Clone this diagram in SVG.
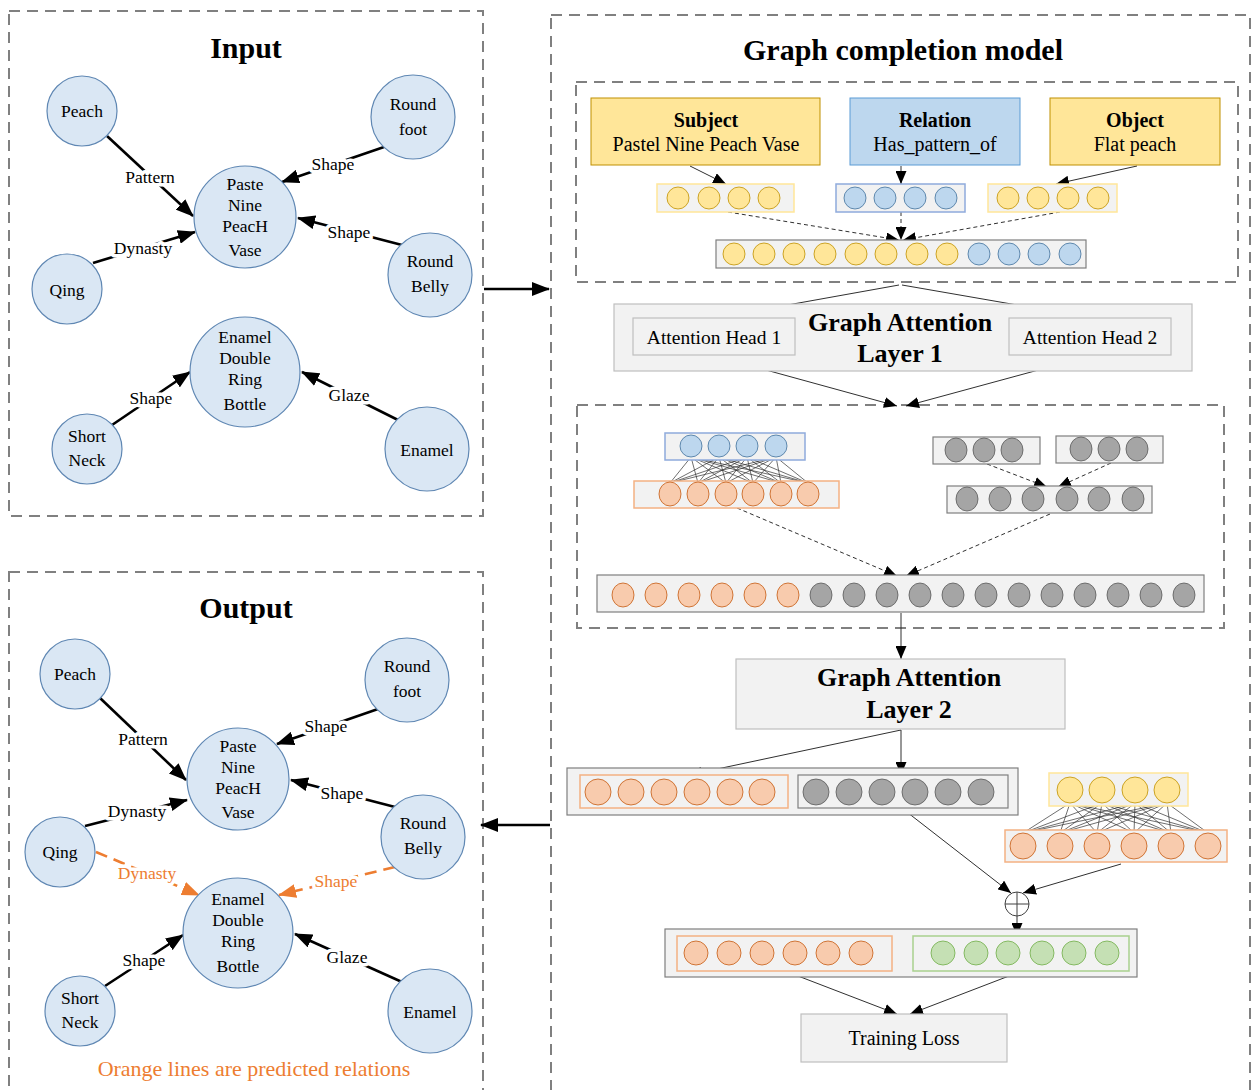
<svg xmlns="http://www.w3.org/2000/svg" width="1255" height="1090" viewBox="0 0 1255 1090">
  <defs>
    <style>
      text { font-family: "Liberation Serif", "Times New Roman", serif; fill: #000; text-anchor: middle; dominant-baseline: central; }
      .title { font-size: 30px; font-weight: bold; }
      .ltitle { font-size: 26px; font-weight: bold; }
      .nl { font-size: 17.5px; }
      .el { font-size: 17.5px; paint-order: stroke; stroke: #fff; stroke-width: 7px; stroke-linejoin: round; }
      .elo { font-size: 17.5px; fill: #ED7D31; paint-order: stroke; stroke: #fff; stroke-width: 7px; stroke-linejoin: round; }
      .bt { font-size: 20px; }
      .ht { font-size: 19.5px; }
      .bb { font-size: 20px; font-weight: bold; }
      .panel { fill: none; stroke: #808080; stroke-width: 2; stroke-dasharray: 11 7; }
      .node { fill: #DAE7F4; stroke: #5F87B3; stroke-width: 1.2; }
      .edge { stroke: #000; stroke-width: 2.6; fill: none; marker-end: url(#ah); }
      .pred { stroke: #ED7D31; stroke-width: 2.6; fill: none; stroke-dasharray: 12 7; marker-end: url(#aho); }
      .thin { stroke: #303030; stroke-width: 1; fill: none; marker-end: url(#as); }
      .dash { stroke: #303030; stroke-width: 1; fill: none; stroke-dasharray: 4 3; marker-end: url(#as); }
      .mesh { stroke: #303030; stroke-width: 0.7; }
      .vec { fill: #F2F2F2; stroke: #7F7F7F; stroke-width: 1.2; }
      .vy { fill: #F2F2F2; stroke: #FFE699; stroke-width: 1.5; }
      .vb { fill: #F2F2F2; stroke: #8FAADC; stroke-width: 1.5; }
      .vo { fill: #F2F2F2; stroke: #F4B183; stroke-width: 1.5; }
      .vg { fill: #F2F2F2; stroke: #A9D18E; stroke-width: 1.5; }
      .box { fill: #F2F2F2; stroke: #BFBFBF; stroke-width: 1.2; }
      .cy { fill: #FFE699; stroke: #BF9000; stroke-width: 0.8; }
      .cb { fill: #BDD7EE; stroke: #41719C; stroke-width: 0.8; }
      .co { fill: #F8CBAD; stroke: #C55A11; stroke-width: 0.8; }
      .cg { fill: #A5A5A5; stroke: #595959; stroke-width: 0.8; }
      .cn { fill: #C5E0B4; stroke: #70AD47; stroke-width: 0.8; }
    </style>
    <marker id="ah" markerUnits="userSpaceOnUse" markerWidth="18" markerHeight="14" refX="17" refY="7" orient="auto">
      <path d="M0,0 L18,7 L0,14 z" fill="#000"/>
    </marker>
    <marker id="aho" markerUnits="userSpaceOnUse" markerWidth="18" markerHeight="14" refX="17" refY="7" orient="auto">
      <path d="M0,0 L18,7 L0,14 z" fill="#ED7D31"/>
    </marker>
    <marker id="as" markerUnits="userSpaceOnUse" markerWidth="13" markerHeight="11" refX="13" refY="5.5" orient="auto">
      <path d="M0,0 L13,5.5 L0,11 z" fill="#000"/>
    </marker>
  </defs>

  <rect width="1255" height="1090" fill="#fff"/>

  <!-- panels -->
  <rect class="panel" x="9" y="11" width="474" height="505"/>
  <rect class="panel" x="9" y="572" width="474" height="530"/>
  <rect class="panel" x="551" y="15" width="699" height="1090"/>
  <rect class="panel" x="576" y="82" width="662" height="200"/>
  <rect class="panel" x="577" y="405" width="647" height="223"/>

  <text class="title" x="246" y="47">Input</text>
  <text class="title" x="246" y="607">Output</text>
  <text class="title" x="903" y="49">Graph completion model</text>

  <!-- connectors -->
  <g id="connectors">
    <!-- input graph -->
    <line class="edge" x1="107" y1="136" x2="193" y2="216"/>
    <line class="edge" x1="93" y1="263" x2="195" y2="232"/>
    <line class="edge" x1="384" y1="147" x2="282" y2="182"/>
    <line class="edge" x1="402" y1="245" x2="298" y2="218"/>
    <line class="edge" x1="112" y1="425" x2="190" y2="372"/>
    <line class="edge" x1="398" y1="420" x2="302" y2="372"/>
    <!-- output graph -->
    <line class="edge" x1="100" y1="698" x2="186" y2="780"/>
    <line class="edge" x1="85" y1="826" x2="187" y2="800"/>
    <line class="edge" x1="378" y1="709" x2="277" y2="744"/>
    <line class="edge" x1="395" y1="807" x2="291" y2="780"/>
    <line class="pred" x1="96" y1="852" x2="199" y2="895"/>
    <line class="pred" x1="395" y1="867" x2="279" y2="895"/>
    <line class="edge" x1="105" y1="986" x2="183" y2="935"/>
    <line class="edge" x1="402" y1="982" x2="295" y2="934"/>
    <!-- panel links -->
    <line class="edge" x1="484" y1="289" x2="549" y2="289"/>
    <line class="edge" x1="550" y1="825" x2="481" y2="825"/>
    <!-- embedding lookup -->
    <line class="thin" x1="690" y1="166" x2="726" y2="184"/>
    <line class="thin" x1="901" y1="166" x2="901" y2="184"/>
    <line class="thin" x1="1137" y1="166" x2="1056" y2="184"/>
    <line class="dash" x1="728" y1="212" x2="899" y2="240"/>
    <line class="dash" x1="901" y1="212" x2="901" y2="240"/>
    <line class="dash" x1="1060" y1="212" x2="903" y2="240"/>
    <!-- attention layer 1 -->
    <line class="thin" x1="899" y1="285" x2="715" y2="318"/>
    <line class="thin" x1="902" y1="285" x2="1092" y2="318"/>
    <line class="thin" x1="715" y1="356" x2="897" y2="406"/>
    <line class="thin" x1="1090" y1="356" x2="906" y2="406"/>
    <!-- concatenation block -->
    <line class="dash" x1="987" y1="464" x2="1047" y2="487"/>
    <line class="dash" x1="1111" y1="463" x2="1058" y2="487"/>
    <line class="dash" x1="737" y1="508" x2="897" y2="576"/>
    <line class="dash" x1="1050" y1="514" x2="906" y2="576"/>
    <line class="thin" x1="901" y1="613" x2="901" y2="659"/>
    <!-- attention layer 2 -->
    <line class="thin" x1="901" y1="730" x2="901" y2="775"/>
    <line class="thin" x1="901" y1="730" x2="689" y2="775"/>
    <line class="thin" x1="903" y1="809" x2="1011" y2="893"/>
    <line class="thin" x1="1121" y1="864" x2="1023" y2="893"/>
    <line class="thin" x1="1017" y1="916" x2="1017" y2="936"/>
    <line class="thin" x1="785" y1="971" x2="897" y2="1014"/>
    <line class="thin" x1="1022" y1="971" x2="910" y2="1014"/>
  </g>

  <!-- relation labels -->
  <g id="edge-labels">
    <text class="el" x="150" y="177">Pattern</text>
    <text class="el" x="143" y="248">Dynasty</text>
    <text class="el" x="333" y="164">Shape</text>
    <text class="el" x="349" y="232">Shape</text>
    <text class="el" x="151" y="398">Shape</text>
    <text class="el" x="349" y="395">Glaze</text>
    <text class="el" x="143" y="739">Pattern</text>
    <text class="el" x="137" y="811">Dynasty</text>
    <text class="el" x="326" y="726">Shape</text>
    <text class="el" x="342" y="793">Shape</text>
    <text class="elo" x="147" y="873">Dynasty</text>
    <text class="elo" x="336" y="881">Shape</text>
    <text class="el" x="144" y="960">Shape</text>
    <text class="el" x="347" y="957">Glaze</text>
  </g>

  <!-- input graph nodes -->
  <g id="in-peach"><circle class="node" cx="82" cy="111" r="35"/><text class="nl" x="82" y="111">Peach</text></g>
  <g id="in-roundfoot"><circle class="node" cx="413" cy="117" r="42"/><text class="nl" x="413" y="104">Round</text><text class="nl" x="413" y="129">foot</text></g>
  <g id="in-vase"><circle class="node" cx="245" cy="217" r="51"/><text class="nl" x="245" y="184">Paste</text><text class="nl" x="245" y="205">Nine</text><text class="nl" x="245" y="226">PeacH</text><text class="nl" x="245" y="250">Vase</text></g>
  <g id="in-qing"><circle class="node" cx="67" cy="289" r="35"/><text class="nl" x="67" y="290">Qing</text></g>
  <g id="in-roundbelly"><circle class="node" cx="430" cy="275" r="42"/><text class="nl" x="430" y="261">Round</text><text class="nl" x="430" y="286">Belly</text></g>
  <g id="in-bottle"><circle class="node" cx="245" cy="372" r="55"/><text class="nl" x="245" y="337">Enamel</text><text class="nl" x="245" y="358">Double</text><text class="nl" x="245" y="379">Ring</text><text class="nl" x="245" y="404">Bottle</text></g>
  <g id="in-shortneck"><circle class="node" cx="87" cy="449" r="35"/><text class="nl" x="87" y="436">Short</text><text class="nl" x="87" y="460">Neck</text></g>
  <g id="in-enamel"><circle class="node" cx="427" cy="449" r="42"/><text class="nl" x="427" y="450">Enamel</text></g>

  <!-- output graph nodes -->
  <g id="out-peach"><circle class="node" cx="75" cy="674" r="35"/><text class="nl" x="75" y="674">Peach</text></g>
  <g id="out-roundfoot"><circle class="node" cx="407" cy="680" r="42"/><text class="nl" x="407" y="666">Round</text><text class="nl" x="407" y="691">foot</text></g>
  <g id="out-vase"><circle class="node" cx="238" cy="779" r="51"/><text class="nl" x="238" y="746">Paste</text><text class="nl" x="238" y="767">Nine</text><text class="nl" x="238" y="788">PeacH</text><text class="nl" x="238" y="812">Vase</text></g>
  <g id="out-qing"><circle class="node" cx="60" cy="852" r="35"/><text class="nl" x="60" y="852">Qing</text></g>
  <g id="out-roundbelly"><circle class="node" cx="423" cy="837" r="42"/><text class="nl" x="423" y="823">Round</text><text class="nl" x="423" y="848">Belly</text></g>
  <g id="out-bottle"><circle class="node" cx="238" cy="933" r="55"/><text class="nl" x="238" y="899">Enamel</text><text class="nl" x="238" y="920">Double</text><text class="nl" x="238" y="941">Ring</text><text class="nl" x="238" y="966">Bottle</text></g>
  <g id="out-shortneck"><circle class="node" cx="80" cy="1011" r="35"/><text class="nl" x="80" y="998">Short</text><text class="nl" x="80" y="1022">Neck</text></g>
  <g id="out-enamel"><circle class="node" cx="430" cy="1011" r="42"/><text class="nl" x="430" y="1012">Enamel</text></g>
  <text x="254" y="1068" style="font-size:22px;fill:#ED7D31">Orange lines are predicted relations</text>

  <!-- triple boxes -->
  <g id="subject"><rect x="591" y="98" width="229" height="67" fill="#FFE699" stroke="#BF9000" stroke-width="1"/><text class="bb" x="706" y="120">Subject</text><text class="bt" x="706" y="144">Pastel Nine Peach Vase</text></g>
  <g id="relation"><rect x="850" y="98" width="170" height="67" fill="#BDD7EE" stroke="#5B9BD5" stroke-width="1"/><text class="bb" x="935" y="120">Relation</text><text class="bt" x="935" y="144">Has_pattern_of</text></g>
  <g id="object"><rect x="1050" y="98" width="170" height="67" fill="#FFE699" stroke="#BF9000" stroke-width="1"/><text class="bb" x="1135" y="120">Object</text><text class="bt" x="1135" y="144">Flat peach</text></g>

  <!-- triple embeddings -->
  <g id="emb-subject"><rect class="vy" x="657" y="184" width="137" height="28"/>
    <circle class="cy" cx="678" cy="198" r="11"/><circle class="cy" cx="709" cy="198" r="11"/><circle class="cy" cx="739" cy="198" r="11"/><circle class="cy" cx="769" cy="198" r="11"/></g>
  <g id="emb-relation"><rect class="vb" x="836" y="184" width="129" height="28"/>
    <circle class="cb" cx="855" cy="198" r="11"/><circle class="cb" cx="885" cy="198" r="11"/><circle class="cb" cx="915" cy="198" r="11"/><circle class="cb" cx="946" cy="198" r="11"/></g>
  <g id="emb-object"><rect class="vy" x="988" y="184" width="129" height="28"/>
    <circle class="cy" cx="1008" cy="198" r="11"/><circle class="cy" cx="1038" cy="198" r="11"/><circle class="cy" cx="1068" cy="198" r="11"/><circle class="cy" cx="1098" cy="198" r="11"/></g>
  <g id="emb-concat"><rect class="vec" x="716" y="240" width="370" height="28"/>
    <circle class="cy" cx="734" cy="254" r="11"/><circle class="cy" cx="764" cy="254" r="11"/><circle class="cy" cx="794" cy="254" r="11"/><circle class="cy" cx="825" cy="254" r="11"/>
    <circle class="cy" cx="856" cy="254" r="11"/><circle class="cy" cx="886" cy="254" r="11"/><circle class="cy" cx="917" cy="254" r="11"/><circle class="cy" cx="947" cy="254" r="11"/>
    <circle class="cb" cx="979" cy="254" r="11"/><circle class="cb" cx="1009" cy="254" r="11"/><circle class="cb" cx="1039" cy="254" r="11"/><circle class="cb" cx="1070" cy="254" r="11"/></g>

  <!-- graph attention layer 1 -->
  <g id="gat1"><rect class="box" x="614" y="304" width="578" height="67"/>
    <text class="ltitle" x="900" y="322">Graph Attention</text><text class="ltitle" x="900" y="353">Layer 1</text></g>
  <g id="head1"><rect class="box" x="633" y="318" width="162" height="37"/><text class="ht" x="714" y="337">Attention Head 1</text></g>
  <g id="head2"><rect class="box" x="1009" y="318" width="162" height="37"/><text class="ht" x="1090" y="337">Attention Head 2</text></g>

  <!-- head outputs -->
  <g id="mesh-1">
    <line class="mesh" x1="691" y1="457" x2="670" y2="483"/><line class="mesh" x1="691" y1="457" x2="698" y2="483"/><line class="mesh" x1="691" y1="457" x2="726" y2="483"/><line class="mesh" x1="691" y1="457" x2="753" y2="483"/><line class="mesh" x1="691" y1="457" x2="781" y2="483"/><line class="mesh" x1="691" y1="457" x2="808" y2="483"/>
    <line class="mesh" x1="719" y1="457" x2="670" y2="483"/><line class="mesh" x1="719" y1="457" x2="698" y2="483"/><line class="mesh" x1="719" y1="457" x2="726" y2="483"/><line class="mesh" x1="719" y1="457" x2="753" y2="483"/><line class="mesh" x1="719" y1="457" x2="781" y2="483"/><line class="mesh" x1="719" y1="457" x2="808" y2="483"/>
    <line class="mesh" x1="747" y1="457" x2="670" y2="483"/><line class="mesh" x1="747" y1="457" x2="698" y2="483"/><line class="mesh" x1="747" y1="457" x2="726" y2="483"/><line class="mesh" x1="747" y1="457" x2="753" y2="483"/><line class="mesh" x1="747" y1="457" x2="781" y2="483"/><line class="mesh" x1="747" y1="457" x2="808" y2="483"/>
    <line class="mesh" x1="776" y1="457" x2="670" y2="483"/><line class="mesh" x1="776" y1="457" x2="698" y2="483"/><line class="mesh" x1="776" y1="457" x2="726" y2="483"/><line class="mesh" x1="776" y1="457" x2="753" y2="483"/><line class="mesh" x1="776" y1="457" x2="781" y2="483"/><line class="mesh" x1="776" y1="457" x2="808" y2="483"/>
  </g>
  <g id="vec-blue"><rect class="vb" x="665" y="433" width="140" height="27"/>
    <circle class="cb" cx="691" cy="446" r="11"/><circle class="cb" cx="719" cy="446" r="11"/><circle class="cb" cx="747" cy="446" r="11"/><circle class="cb" cx="776" cy="446" r="11"/></g>
  <g id="vec-orange"><rect class="vo" x="634" y="481" width="205" height="27"/>
    <ellipse class="co" cx="670" cy="494" rx="11" ry="12"/><ellipse class="co" cx="698" cy="494" rx="11" ry="12"/><ellipse class="co" cx="726" cy="494" rx="11" ry="12"/><ellipse class="co" cx="753" cy="494" rx="11" ry="12"/><ellipse class="co" cx="781" cy="494" rx="11" ry="12"/><ellipse class="co" cx="808" cy="494" rx="11" ry="12"/></g>
  <g id="vec-gray-a"><rect class="vec" x="933" y="437" width="107" height="27"/>
    <ellipse class="cg" cx="956" cy="450" rx="11" ry="12"/><ellipse class="cg" cx="984" cy="450" rx="11" ry="12"/><ellipse class="cg" cx="1012" cy="450" rx="11" ry="12"/></g>
  <g id="vec-gray-b"><rect class="vec" x="1056" y="436" width="107" height="27"/>
    <ellipse class="cg" cx="1081" cy="449" rx="11" ry="12"/><ellipse class="cg" cx="1109" cy="449" rx="11" ry="12"/><ellipse class="cg" cx="1137" cy="449" rx="11" ry="12"/></g>
  <g id="vec-gray-c"><rect class="vec" x="947" y="486" width="205" height="27"/>
    <ellipse class="cg" cx="967" cy="499" rx="11" ry="12"/><ellipse class="cg" cx="1000" cy="499" rx="11" ry="12"/><ellipse class="cg" cx="1033" cy="499" rx="11" ry="12"/><ellipse class="cg" cx="1067" cy="499" rx="11" ry="12"/><ellipse class="cg" cx="1099" cy="499" rx="11" ry="12"/><ellipse class="cg" cx="1133" cy="499" rx="11" ry="12"/></g>
  <g id="vec-concat2"><rect class="vec" x="597" y="575" width="607" height="37"/>
    <ellipse class="co" cx="623" cy="595" rx="11" ry="12"/><ellipse class="co" cx="656" cy="595" rx="11" ry="12"/><ellipse class="co" cx="689" cy="595" rx="11" ry="12"/><ellipse class="co" cx="722" cy="595" rx="11" ry="12"/><ellipse class="co" cx="755" cy="595" rx="11" ry="12"/><ellipse class="co" cx="788" cy="595" rx="11" ry="12"/>
    <ellipse class="cg" cx="821" cy="595" rx="11" ry="12"/><ellipse class="cg" cx="854" cy="595" rx="11" ry="12"/><ellipse class="cg" cx="887" cy="595" rx="11" ry="12"/><ellipse class="cg" cx="920" cy="595" rx="11" ry="12"/><ellipse class="cg" cx="953" cy="595" rx="11" ry="12"/><ellipse class="cg" cx="986" cy="595" rx="11" ry="12"/>
    <ellipse class="cg" cx="1019" cy="595" rx="11" ry="12"/><ellipse class="cg" cx="1052" cy="595" rx="11" ry="12"/><ellipse class="cg" cx="1085" cy="595" rx="11" ry="12"/><ellipse class="cg" cx="1118" cy="595" rx="11" ry="12"/><ellipse class="cg" cx="1151" cy="595" rx="11" ry="12"/><ellipse class="cg" cx="1184" cy="595" rx="11" ry="12"/></g>

  <!-- graph attention layer 2 -->
  <g id="gat2"><rect class="box" x="736" y="659" width="329" height="70"/>
    <text class="ltitle" x="909" y="677">Graph Attention</text><text class="ltitle" x="909" y="709">Layer 2</text></g>

  <g id="vec-layer2"><rect class="vec" x="567" y="768" width="451" height="47"/>
    <rect class="vo" x="580" y="775" width="208" height="33"/>
    <rect class="vec" x="798" y="775" width="210" height="33"/>
    <circle class="co" cx="598" cy="792" r="13"/><circle class="co" cx="631" cy="792" r="13"/><circle class="co" cx="664" cy="792" r="13"/><circle class="co" cx="697" cy="792" r="13"/><circle class="co" cx="730" cy="792" r="13"/><circle class="co" cx="762" cy="792" r="13"/>
    <circle class="cg" cx="816" cy="792" r="13"/><circle class="cg" cx="849" cy="792" r="13"/><circle class="cg" cx="882" cy="792" r="13"/><circle class="cg" cx="915" cy="792" r="13"/><circle class="cg" cx="948" cy="792" r="13"/><circle class="cg" cx="981" cy="792" r="13"/></g>

  <g id="mesh-2">
    <line class="mesh" x1="1070" y1="803" x2="1023" y2="833"/><line class="mesh" x1="1070" y1="803" x2="1060" y2="833"/><line class="mesh" x1="1070" y1="803" x2="1097" y2="833"/><line class="mesh" x1="1070" y1="803" x2="1134" y2="833"/><line class="mesh" x1="1070" y1="803" x2="1171" y2="833"/><line class="mesh" x1="1070" y1="803" x2="1208" y2="833"/>
    <line class="mesh" x1="1102" y1="803" x2="1023" y2="833"/><line class="mesh" x1="1102" y1="803" x2="1060" y2="833"/><line class="mesh" x1="1102" y1="803" x2="1097" y2="833"/><line class="mesh" x1="1102" y1="803" x2="1134" y2="833"/><line class="mesh" x1="1102" y1="803" x2="1171" y2="833"/><line class="mesh" x1="1102" y1="803" x2="1208" y2="833"/>
    <line class="mesh" x1="1135" y1="803" x2="1023" y2="833"/><line class="mesh" x1="1135" y1="803" x2="1060" y2="833"/><line class="mesh" x1="1135" y1="803" x2="1097" y2="833"/><line class="mesh" x1="1135" y1="803" x2="1134" y2="833"/><line class="mesh" x1="1135" y1="803" x2="1171" y2="833"/><line class="mesh" x1="1135" y1="803" x2="1208" y2="833"/>
    <line class="mesh" x1="1167" y1="803" x2="1023" y2="833"/><line class="mesh" x1="1167" y1="803" x2="1060" y2="833"/><line class="mesh" x1="1167" y1="803" x2="1097" y2="833"/><line class="mesh" x1="1167" y1="803" x2="1134" y2="833"/><line class="mesh" x1="1167" y1="803" x2="1171" y2="833"/><line class="mesh" x1="1167" y1="803" x2="1208" y2="833"/>
  </g>
  <g id="vec-yellow"><rect class="vy" x="1049" y="773" width="139" height="33"/>
    <circle class="cy" cx="1070" cy="790" r="13"/><circle class="cy" cx="1102" cy="790" r="13"/><circle class="cy" cx="1135" cy="790" r="13"/><circle class="cy" cx="1167" cy="790" r="13"/></g>
  <g id="vec-orange2"><rect class="vo" x="1005" y="830" width="222" height="32"/>
    <circle class="co" cx="1023" cy="846" r="13"/><circle class="co" cx="1060" cy="846" r="13"/><circle class="co" cx="1097" cy="846" r="13"/><circle class="co" cx="1134" cy="846" r="13"/><circle class="co" cx="1171" cy="846" r="13"/><circle class="co" cx="1208" cy="846" r="13"/></g>

  <!-- residual sum -->
  <g id="sum"><circle cx="1017" cy="904" r="12" fill="#fff" stroke="#404040" stroke-width="1"/>
    <line x1="1005" y1="904" x2="1029" y2="904" stroke="#404040" stroke-width="1"/><line x1="1017" y1="892" x2="1017" y2="916" stroke="#404040" stroke-width="1"/></g>

  <g id="vec-final"><rect class="vec" x="665" y="929" width="472" height="48"/>
    <rect class="vo" x="677" y="936" width="215" height="35"/>
    <rect class="vg" x="913" y="936" width="216" height="35"/>
    <circle class="co" cx="696" cy="953" r="12"/><circle class="co" cx="729" cy="953" r="12"/><circle class="co" cx="762" cy="953" r="12"/><circle class="co" cx="795" cy="953" r="12"/><circle class="co" cx="828" cy="953" r="12"/><circle class="co" cx="861" cy="953" r="12"/>
    <circle class="cn" cx="943" cy="953" r="12"/><circle class="cn" cx="976" cy="953" r="12"/><circle class="cn" cx="1008" cy="953" r="12"/><circle class="cn" cx="1042" cy="953" r="12"/><circle class="cn" cx="1074" cy="953" r="12"/><circle class="cn" cx="1107" cy="953" r="12"/></g>

  <g id="loss"><rect class="box" x="801" y="1014" width="206" height="48"/><text class="bt" x="904" y="1038">Training Loss</text></g>
</svg>
